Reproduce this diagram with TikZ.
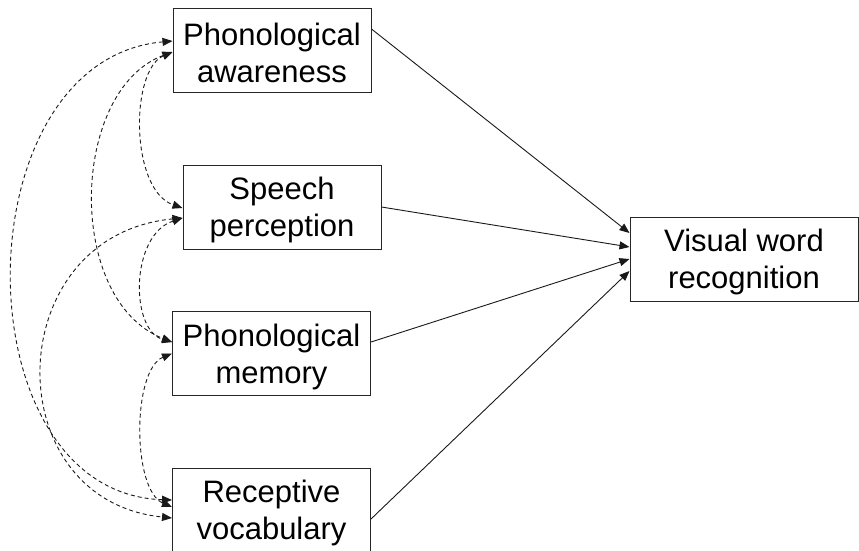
\documentclass[tikz,border=0pt]{standalone}
\usepackage{fontspec}
\setmainfont{Liberation Sans}
\usetikzlibrary{arrows.meta}
% taller first line so the two text lines sit a little lower in each box
\newcommand{\boxstrut}{\rule{0pt}{29pt}}
\begin{document}
\begin{tikzpicture}[x=1pt,y=-1pt,
  box/.style={draw=black!85, line width=1pt, fill=white, inner sep=0pt,
    minimum width=198pt, minimum height=84pt, align=center,
    font=\fontsize{31}{37}\selectfont},
  path/.style={draw=black!90, line width=0.9pt, -{Triangle[length=10pt,width=8pt]}},
  corr/.style={draw=black!90, line width=0.9pt, dash pattern=on 4pt off 3pt,
    {Triangle[length=10pt,width=8pt]}-{Triangle[length=10pt,width=8pt]}}]
\useasboundingbox (0,0) rectangle (859,550);

% predictors and outcome
\node[box] (pa) at (272,50) {\boxstrut Phonological\\awareness};
\node[box] (sp) at (282,207) {\boxstrut Speech\\perception};
\node[box] (pm) at (271.5,353.5) {\boxstrut Phonological\\memory};
\node[box] (rv) at (271.5,510) {\boxstrut Receptive\\vocabulary};
\node[box, minimum width=228pt] (vwr) at (744,259) {\boxstrut Visual word\\recognition};

% direct paths to visual word recognition
\draw[path] ([yshift=21pt]pa.east) -- ([yshift=26pt]vwr.west);
\draw[path] (sp.east) -- ([yshift=12pt]vwr.west);
\draw[path] ([yshift=11.5pt]pm.east) -- (vwr.west);
\draw[path] ([yshift=-9pt]rv.east) -- ([yshift=-12pt]vwr.west);

% correlations among predictors
\draw[corr] ([yshift=-2pt]pa.west) .. controls (130,70) and (130,190) .. ([yshift=-1pt]sp.west);
\draw[corr] ([yshift=-2pt]pa.west) .. controls (70,90) and (65,300) .. ([yshift=11.5pt]pm.west);
\draw[corr] ([yshift=9pt]pa.west) .. controls (-40,60) and (-41,493) .. ([yshift=10pt]rv.west);
\draw[corr] ([yshift=-11pt]sp.west) .. controls (130,235) and (130,330) .. ([yshift=11.5pt]pm.west);
\draw[corr] ([yshift=-11pt]sp.west) .. controls (0,235) and (-5,500) .. ([yshift=-8pt]rv.west);
\draw[corr] (pm.west) .. controls (132,370) and (132,490) .. ([yshift=3pt]rv.west);
\end{tikzpicture}
\end{document}
